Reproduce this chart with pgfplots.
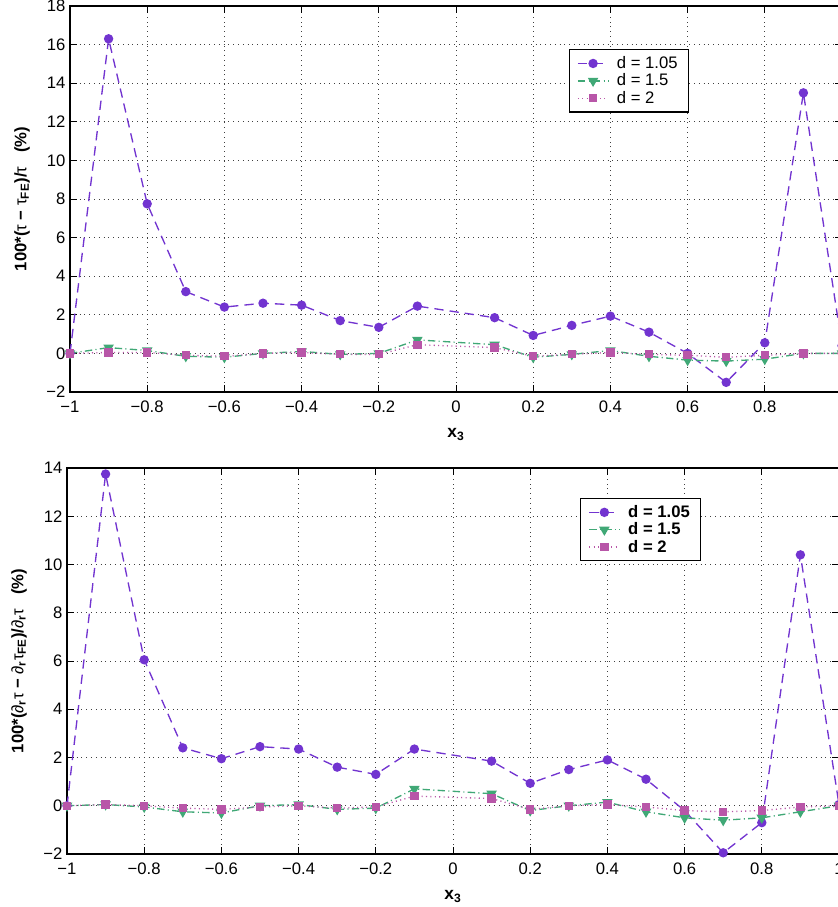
\documentclass[border=0pt]{standalone}
\usepackage{pgfplots}
\pgfplotsset{compat=1.18}
\usepackage{fontspec}
\setmainfont{Liberation Sans}
\definecolor{cA}{RGB}{114,52,208}
\definecolor{cB}{RGB}{64,168,118}
\definecolor{cC}{RGB}{184,86,168}
\pgfplotsset{
  myax/.style={
    scale only axis, width=579pt, height=289.5pt,
    anchor=south west,
    xmin=-1, xmax=1,
    xtick={-1,-0.8,-0.6,-0.4,-0.2,0,0.2,0.4,0.6,0.8,1},
    xticklabels={−1,−0.8,−0.6,−0.4,−0.2,0,0.2,0.4,0.6,0.8,1},
    grid=major,
    grid style={black!75, line width=0.55pt, dash pattern=on 0.6pt off 3pt},
    axis line style={line width=0.8pt},
    major tick style={line width=0.7pt, black},
    major tick length=5.5pt,
    tick align=inside,
    tick label style={font=\fontsize{12.5}{14}\selectfont},
    xticklabel style={yshift=-3.3pt},
    clip=false,
    xlabel={\textbf{x\textsubscript{3}}},
    xlabel style={font=\fontsize{13}{15}\selectfont, at={(rel axis cs:0.5,0)}, anchor=north, inner sep=0pt, yshift=-27pt},
    ylabel style={font=\fontsize{12.5}{14}\selectfont, at={(rel axis cs:0,0.5)}, anchor=center, yshift=36pt},
    legend cell align=left,
  },
  limg/.style={legend image code/.code={\draw[mark repeat=2,mark phase=2] plot coordinates {(0cm,0cm) (0.4cm,0cm) (0.8cm,0cm)};}},
  sA/.style={limg, color=cA, line width=1pt, dash pattern=on 7pt off 4.5pt, mark=*, mark size=3pt, mark options={solid, fill=cA, draw=cA}},
  sB/.style={limg, color=cB, line width=1pt, dash pattern=on 5.5pt off 2.5pt on 0.8pt off 2.5pt, mark=triangle*, mark size=3.6pt, mark options={solid, fill=cB, draw=cB, rotate=180}},
  sC/.style={limg, color=cC, line width=1pt, dash pattern=on 0.8pt off 2.5pt, mark=square*, mark size=2.6pt, mark options={solid, fill=cC, draw=cC}},
}
\begin{document}
\begin{tikzpicture}
\useasboundingbox (0,0) rectangle (628.5pt,680.25pt);
\clip (0,0) rectangle (628.5pt,680.25pt);
\begin{axis}[myax, at={(52.5pt,386.25pt)},
  ymin=-2, ymax=18, ytick={-2,0,2,4,6,8,10,12,14,16,18},
  yticklabels={−2,0,2,4,6,8,10,12,14,16,18},
  ylabel={\textbf{100*(}τ\textbf{ − }τ\textsubscript{\textbf{FE}}\textbf{)/}τ\textbf{\ \ \ (\%)}},
  legend style={at={(rel axis cs:0.646,0.888)}, anchor=north west, draw=black, line width=0.8pt, fill=white,
    font=\fontsize{12.5}{15}\selectfont, inner xsep=6pt, inner ysep=3pt, row sep=-1.5pt,
    /tikz/every odd column/.append style={column sep=4pt}},
]
\addplot[sA] coordinates {(-1,0) (-0.9,16.3) (-0.8,7.75) (-0.7,3.2) (-0.6,2.4) (-0.5,2.6) (-0.4,2.5) (-0.3,1.7) (-0.2,1.35) (-0.1,2.45) (0.1,1.85) (0.2,0.93) (0.3,1.45) (0.4,1.93) (0.5,1.1) (0.6,0) (0.7,-1.5) (0.8,0.55) (0.9,13.5) (1,0.4)};
\addlegendentry{d = 1.05}
\addplot[sB] coordinates {(-1,0) (-0.9,0.3) (-0.8,0.15) (-0.7,-0.15) (-0.6,-0.2) (-0.5,0) (-0.4,0.1) (-0.3,-0.05) (-0.2,0) (-0.1,0.7) (0.1,0.45) (0.2,-0.2) (0.3,-0.05) (0.4,0.15) (0.5,-0.15) (0.6,-0.35) (0.7,-0.4) (0.8,-0.3) (0.9,0) (1,0)};
\addlegendentry{d = 1.5}
\addplot[sC] coordinates {(-1,0) (-0.9,0.05) (-0.8,0.05) (-0.7,-0.1) (-0.6,-0.15) (-0.5,0) (-0.4,0.05) (-0.3,-0.05) (-0.2,-0.05) (-0.1,0.45) (0.1,0.3) (0.2,-0.15) (0.3,-0.05) (0.4,0.05) (0.5,-0.05) (0.6,-0.1) (0.7,-0.2) (0.8,-0.1) (0.9,0) (1,0)};
\addlegendentry{d = 2}
\end{axis}
\begin{axis}[myax, at={(50.25pt,39.75pt)},
  ymin=-2, ymax=14, ytick={-2,0,2,4,6,8,10,12,14},
  yticklabels={−2,0,2,4,6,8,10,12,14},
  ylabel={\textbf{100*(}∂\textsubscript{\textbf{r}}τ\textbf{ − }∂\textsubscript{\textbf{r}}τ\textsubscript{\textbf{FE}}\textbf{)/}∂\textsubscript{\textbf{r}}τ\textbf{\ \ \ (\%)}},
  legend style={at={(rel axis cs:0.6645,0.922)}, anchor=north west, draw=black, line width=0.8pt, fill=white,
    font=\bfseries\fontsize{12.5}{15}\selectfont, inner xsep=6pt, inner ysep=3pt, row sep=-1.5pt,
    /tikz/every odd column/.append style={column sep=4pt}},
]
\addplot[sA] coordinates {(-1,0) (-0.9,13.75) (-0.8,6.05) (-0.7,2.4) (-0.6,1.95) (-0.5,2.45) (-0.4,2.35) (-0.3,1.6) (-0.2,1.3) (-0.1,2.35) (0.1,1.85) (0.2,0.93) (0.3,1.5) (0.4,1.9) (0.5,1.1) (0.6,-0.2) (0.7,-1.95) (0.8,-0.7) (0.9,10.4) (1,0.05)};
\addlegendentry{d = 1.05}
\addplot[sB] coordinates {(-1,0) (-0.9,0.05) (-0.8,-0.05) (-0.7,-0.25) (-0.6,-0.3) (-0.5,0) (-0.4,0.05) (-0.3,-0.15) (-0.2,-0.1) (-0.1,0.7) (0.1,0.5) (0.2,-0.2) (0.3,0) (0.4,0.15) (0.5,-0.25) (0.6,-0.5) (0.7,-0.6) (0.8,-0.5) (0.9,-0.25) (1,0)};
\addlegendentry{d = 1.5}
\addplot[sC] coordinates {(-1,0) (-0.9,0.05) (-0.8,0) (-0.7,-0.1) (-0.6,-0.15) (-0.5,-0.05) (-0.4,0) (-0.3,-0.1) (-0.2,-0.05) (-0.1,0.4) (0.1,0.3) (0.2,-0.15) (0.3,0) (0.4,0.05) (0.5,-0.05) (0.6,-0.2) (0.7,-0.25) (0.8,-0.2) (0.9,-0.05) (1,0)};
\addlegendentry{d = 2}
\end{axis}
\end{tikzpicture}
\end{document}
